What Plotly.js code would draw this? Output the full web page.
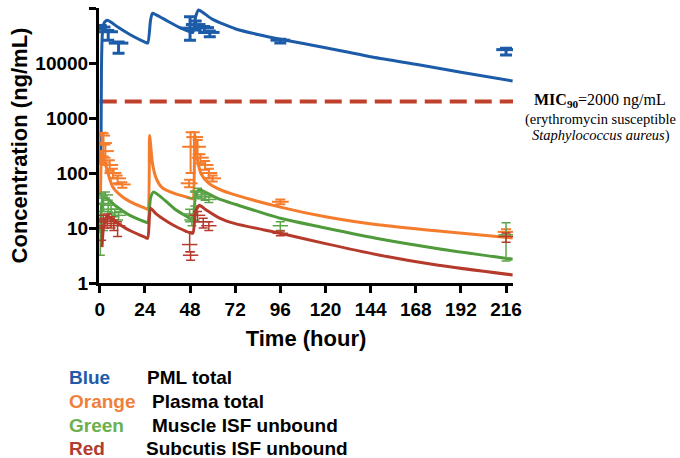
<!DOCTYPE html>
<html>
<head>
<meta charset="utf-8">
<script src="https://cdn.plot.ly/plotly-3.0.1.min.js"></script>
<style>html,body{margin:0;padding:0;background:#fff;}#chart{width:680px;height:458px;}</style>
</head>
<body>
<div id="chart"></div>
<script>
// ---- Model curves (time in hours, concentration in ng/mL) ----
var blueT   = [0.6, 0.9, 1.3, 1.7, 2.5, 4, 6, 10, 16, 24, 25.5, 27, 28, 30, 36, 42, 48, 49.5, 51, 52.5, 55, 60, 72, 84, 96, 120, 144, 168, 192, 219.5];
var blueC   = [150, 8000, 30000, 45000, 55000, 60000, 55000, 44000, 33000, 24000, 23000, 60000, 80000, 75000, 58000, 45000, 37000, 36000, 70000, 92000, 82000, 62000, 42000, 33000, 27000, 19000, 13000, 9500, 6800, 4700];

var orangeT = [0.4, 0.8, 1.2, 2, 4, 7, 12, 18, 24, 25.5, 26.5, 28, 30, 33, 40, 48, 49.5, 50.5, 52, 54, 58, 64, 72, 96, 120, 149, 180, 219.5];
var orangeC = [40, 200, 250, 200, 110, 55, 37, 28, 23, 22, 480, 150, 80, 55, 42, 35, 34, 500, 170, 95, 65, 50, 40, 24, 16, 11.3, 8.8, 6.6];

var greenT  = [0.5, 1, 2, 4, 8, 16, 24, 25.5, 27, 28.5, 32, 40, 48, 49.5, 51, 53, 56, 64, 72, 96, 120, 149, 180, 219.5];
var greenC  = [8, 25, 35, 34, 26, 17, 13, 12.5, 35, 45, 38, 22, 15, 14, 40, 50, 45, 33, 27, 15, 10, 6.3, 4.2, 2.7];

var redT    = [1.2, 2, 4, 6, 10, 16, 24, 25.5, 27, 30, 36, 42, 48, 49.5, 51, 53, 56, 64, 72, 96, 120, 149, 180, 219.5];
var redC    = [4.5, 10, 17, 15, 12, 9, 6.8, 6.5, 23, 18, 13, 10, 8.2, 8, 20, 26, 22, 15, 12, 8, 5.2, 3.2, 2.1, 1.4];

// ---- Observations: time, mean, upper error, lower error ----
var blueObsT  = [0.5, 4.5, 10, 48, 51, 55.5, 58.5, 96, 216];
var blueObsM  = [45000, 37000, 23000, 43000, 50000, 44000, 36000, 26000, 17500];
var blueObsUp = [3000, 2000, 1000, 26000, 8000, 2000, 2000, 1000, 1000];
var blueObsDn = [3000, 11000, 8000, 17000, 10000, 8000, 6000, 3000, 3500];

var orangeObsT  = [0.3, 1, 2, 3, 5.3, 7, 9.5, 12, 47.5, 48.3, 50.5, 52, 53.5, 56, 58, 60, 96, 216];
var orangeObsM  = [155, 480, 350, 250, 140, 100, 80, 62, 65, 300, 450, 300, 190, 140, 100, 80, 30, 8.5];
var orangeObsUp = [10, 60, 180, 80, 30, 20, 10, 6, 10, 250, 100, 100, 30, 25, 20, 10, 3, 1];
var orangeObsDn = [10, 150, 150, 60, 30, 20, 15, 8, 10, 200, 150, 80, 40, 25, 20, 10, 3, 1];

var greenObsT  = [0.3, 1, 2, 3, 4.5, 6, 8, 10, 47.8, 49, 50.5, 52, 54, 56, 58, 96, 216];
var greenObsM  = [9, 35, 28, 40, 26, 22, 19, 17, 18, 14, 35, 45, 40, 37, 33, 11, 7.5];
var greenObsUp = [5.5, 8, 10, 5, 6, 4, 3, 3, 4, 3, 12, 8, 6, 5, 4, 2, 5];
var greenObsDn = [5.8, 8, 8, 5, 6, 4, 3, 3, 5, 3, 10, 8, 6, 5, 4, 2, 5];

var redObsT  = [1, 2, 4, 6, 7.5, 9.5, 47.8, 48.3, 52, 55, 58, 96, 216];
var redObsM  = [10, 14, 15, 13, 12, 11, 5, 3.2, 17, 13, 11, 8, 7];
var redObsUp = [3, 3, 3, 3, 2, 2, 3.5, 0.5, 3, 2, 2, 0.8, 1.1];
var redObsDn = [4, 3, 4, 3, 3, 4, 1.3, 0.6, 4, 3, 2, 0.8, 1.5];

var micValue = 2000;
var micT = [0, 219.7];

var xTickVals = [0, 24, 48, 72, 96, 120, 144, 168, 192, 216];
var yTickVals = [1, 10, 100, 1000, 10000, 100000];
var yTickText = ['1', '10', '100', '1000', '10000', '100000'];

var legendNames  = ['Blue', 'Orange', 'Green', 'Red'];
var legendLabels = ['PML total', 'Plasma total', 'Muscle ISF unbound', 'Subcutis ISF unbound'];

// ---- Styles ----
var colBlue = '#1C5BA8', colOrange = '#F47C2C', colGreen = '#4F9B3C', colRed = '#B53A2B', colMic = '#C0412B';
var legendColors = ['#1F5BA8', '#F07F3A', '#6BB04F', '#B13C2F'];

function lineTrace(x, y, c, w) {
  return {x: x, y: y, type: 'scatter', mode: 'lines', line: {color: c, width: w, shape: 'spline', smoothing: 0.6}, hoverinfo: 'skip'};
}
function obsTrace(x, m, up, dn, c, th, sz) {
  return {x: x, y: m, type: 'scatter', mode: 'markers',
    marker: {symbol: 'line-ew', size: sz, line: {color: c, width: th}},
    error_y: {type: 'data', symmetric: false, array: up, arrayminus: dn, color: c, thickness: th, width: sz / 2 - 1},
    hoverinfo: 'skip'};
}

var traces = [
  {x: micT, y: micT.map(function(){return micValue;}), type: 'scatter', mode: 'lines', line: {color: colMic, width: 4, dash: '17px,8px'}, hoverinfo: 'skip'},
  lineTrace(blueT, blueC, colBlue, 3),
  obsTrace(blueObsT, blueObsM, blueObsUp, blueObsDn, colBlue, 3, 14),
  lineTrace(orangeT, orangeC, colOrange, 3),
  obsTrace(orangeObsT, orangeObsM, orangeObsUp, orangeObsDn, colOrange, 2, 12),
  lineTrace(greenT, greenC, colGreen, 3),
  obsTrace(greenObsT, greenObsM, greenObsUp, greenObsDn, '#5DA54A', 1.5, 11),
  lineTrace(redT, redC, colRed, 3),
  obsTrace(redObsT, redObsM, redObsUp, redObsDn, colRed, 1.5, 11)
];

var fontFam = 'Liberation Sans, Arial, sans-serif';
var serif = 'Liberation Serif, Times New Roman, serif';
var annotations = [
  {xref: 'paper', yref: 'paper', x: 1.21, y: 0.662, xanchor: 'center', yanchor: 'middle', showarrow: false,
   text: '<b>MIC</b><sub><b>90</b></sub>=2000 ng/mL', font: {family: serif, size: 16, color: '#000'}},
  {xref: 'paper', yref: 'paper', x: 1.212, y: 0.596, xanchor: 'center', yanchor: 'middle', showarrow: false,
   text: '(erythromycin susceptible', font: {family: serif, size: 14.5, color: '#000'}},
  {xref: 'paper', yref: 'paper', x: 1.212, y: 0.535, xanchor: 'center', yanchor: 'middle', showarrow: false,
   text: '<i>Staphylococcus aureus</i>)', font: {family: serif, size: 14.5, color: '#000'}}
];
var legendY = [377, 401, 425, 448];
var labelX = [145, 150, 150, 144];
for (var i = 0; i < legendNames.length; i++) {
  annotations.push({xref: 'paper', yref: 'paper', x: (67 - 99) / 414, y: (283 - legendY[i]) / 275, xanchor: 'left', yanchor: 'middle', showarrow: false,
    text: '<b>' + legendNames[i] + '</b>', font: {family: fontFam, size: 19, color: legendColors[i]}});
  annotations.push({xref: 'paper', yref: 'paper', x: (labelX[i] - 99) / 414, y: (283 - legendY[i]) / 275, xanchor: 'left', yanchor: 'middle', showarrow: false,
    text: '<b>' + legendLabels[i] + '</b>', font: {family: fontFam, size: 19, color: '#000'}});
}

var layout = {
  width: 680, height: 458,
  margin: {l: 99, r: 167, t: 8, b: 175},
  paper_bgcolor: '#fff', plot_bgcolor: '#fff',
  showlegend: false,
  font: {family: fontFam, color: '#000'},
  xaxis: {
    range: [-0.4, 219.7], tickvals: xTickVals, ticks: 'outside', ticklen: 7, tickwidth: 3, tickcolor: '#000',
    showline: true, linecolor: '#000', linewidth: 3, showgrid: false, zeroline: false,
    tickfont: {family: fontFam, size: 19, weight: 'bold', color: '#000'},
    title: {text: '<b>Time (hour)</b>', font: {family: fontFam, size: 22, color: '#000'}, standoff: 12}
  },
  yaxis: {
    type: 'log', range: [0, 5], tickvals: yTickVals, ticktext: yTickText, ticks: 'outside', ticklen: 7, tickwidth: 3, tickcolor: '#000',
    showline: true, linecolor: '#000', linewidth: 3, showgrid: false, zeroline: false, ticklabelstandoff: -3,
    tickfont: {family: fontFam, size: 19, weight: 'bold', color: '#000'},
    title: {text: '<b>Concentration (ng/mL)</b>', font: {family: fontFam, size: 22, color: '#000'}, standoff: 2}
  },
  annotations: annotations
};

Plotly.newPlot('chart', traces, layout, {staticPlot: true, displayModeBar: false});
</script>
</body>
</html>
